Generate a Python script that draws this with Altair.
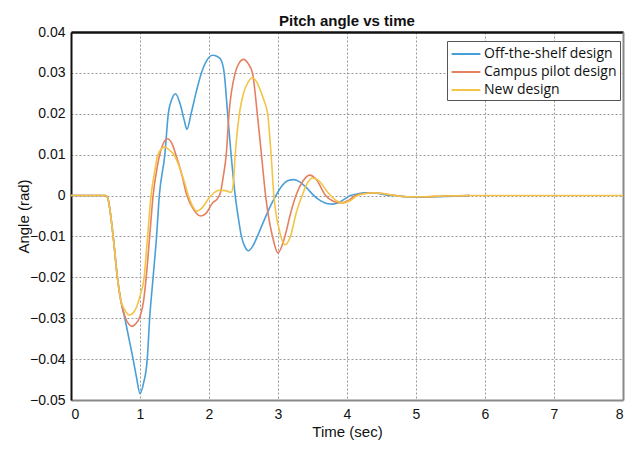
import altair as alt
import pandas as pd

series_names = ["Off-the-shelf design", "Campus pilot design", "New design"]
series_colors = ["#4a9fd8", "#e5805f", "#f3c446"]

t_off = [0, 0.5, 0.53, 0.61, 0.67, 0.72, 0.78, 0.84, 0.90, 0.95, 1.0, 1.05, 1.105, 1.14, 1.19, 1.24, 1.28,
         1.36, 1.41, 1.46, 1.515, 1.58, 1.64, 1.68, 1.74, 1.81, 1.89, 1.96, 2.05, 2.12, 2.17, 2.22, 2.27,
         2.32, 2.38, 2.43, 2.47, 2.52, 2.57, 2.63, 2.70, 2.80, 2.90, 2.97, 3.05, 3.14, 3.23, 3.32, 3.42,
         3.52, 3.62, 3.72, 3.79, 3.88, 3.97, 4.05, 4.15, 4.25, 4.34, 4.45, 4.58, 4.70, 4.85, 5.0, 5.2,
         5.4, 5.6, 5.78]
v_off = [0, 0, -0.0005, -0.0098, -0.0197, -0.0255, -0.030, -0.035, -0.040, -0.0445, -0.0484, -0.046,
         -0.040, -0.030, -0.020, -0.010, 0.0, 0.010, 0.020, 0.0235, 0.0249, 0.0225, 0.0185, 0.0162,
         0.020, 0.025, 0.030, 0.0328, 0.0343, 0.034, 0.0333, 0.030, 0.020, 0.010, 0.0, -0.006, -0.010,
         -0.0125, -0.0135, -0.0125, -0.010, -0.006, -0.0022, 0.0, 0.0022, 0.0036, 0.0039, 0.0033,
         0.0018, 0.0, -0.0013, -0.002, -0.0021, -0.0017, -0.0008, 0.0, 0.0004, 0.0007, 0.0007, 0.0005,
         0.0001, 0.0, -0.0003, -0.0004, -0.0004, -0.0002, -0.0001, 0.0]

t_campus = [0, 0.5, 0.53, 0.61, 0.67, 0.72, 0.78, 0.84, 0.885, 0.93, 1.0, 1.05, 1.09, 1.14, 1.19, 1.25,
            1.32, 1.40, 1.46, 1.52, 1.60, 1.68, 1.78, 1.88, 1.96, 2.05, 2.12, 2.17, 2.21, 2.25, 2.29,
            2.38, 2.44, 2.50, 2.57, 2.63, 2.70, 2.76, 2.82, 2.92, 3.0, 3.10, 3.18, 3.26, 3.36, 3.46,
            3.56, 3.69, 3.80, 3.91, 4.02, 4.12, 4.25, 4.39, 4.55, 4.70, 4.9, 5.1, 5.4, 5.78]
v_campus = [0, 0, -0.0005, -0.0098, -0.0197, -0.0255, -0.0295, -0.0315, -0.032, -0.0315, -0.0296,
            -0.026, -0.020, -0.010, 0.0, 0.007, 0.012, 0.0139, 0.0128, 0.010, 0.0055, 0.0, -0.0035,
            -0.005, -0.0043, -0.0018, -0.0008, 0.001, 0.005, 0.010, 0.020, 0.030, 0.0325, 0.0333,
            0.0322, 0.030, 0.020, 0.010, 0.0, -0.010, -0.014, -0.010, -0.0045, 0.0, 0.0035, 0.005,
            0.0038, 0.0, -0.0014, -0.0018, -0.0012, 0.0, 0.0005, 0.0007, 0.0004, 0.0, -0.0003,
            -0.0003, -0.0001, 0.0]

t_new = [0, 0.5, 0.53, 0.61, 0.67, 0.72, 0.78, 0.85, 0.92, 1.0, 1.06, 1.11, 1.16, 1.21, 1.26, 1.36,
         1.42, 1.49, 1.56, 1.64, 1.70, 1.76, 1.82, 1.90, 2.0, 2.08, 2.15, 2.24, 2.32, 2.35, 2.38, 2.44,
         2.50, 2.57, 2.63, 2.70, 2.76, 2.80, 2.85, 2.90, 2.94, 3.02, 3.10, 3.18, 3.26, 3.35, 3.43, 3.50,
         3.60, 3.72, 3.84, 3.95, 4.05, 4.15, 4.28, 4.40, 4.55, 4.70, 4.9, 5.1, 5.4, 5.8, 8.0]
v_new = [0, 0, -0.0005, -0.0098, -0.0197, -0.0255, -0.028, -0.0292, -0.0283, -0.0246, -0.020, -0.010,
         0.0, 0.0055, 0.010, 0.0119, 0.0112, 0.010, 0.0075, 0.0035, 0.0, -0.0025, -0.0038, -0.003,
         -0.0006, 0.0008, 0.0013, 0.0012, 0.0008, 0.0025, 0.010, 0.020, 0.025, 0.0278, 0.0288, 0.0275,
         0.025, 0.0231, 0.020, 0.010, 0.0, -0.0085, -0.012, -0.010, -0.0045, 0.0, 0.0032, 0.0043,
         0.0035, 0.0008, -0.0012, -0.0018, -0.0012, 0.0, 0.0005, 0.0007, 0.0004, 0.0, -0.0003,
         -0.0003, -0.0001, 0.0, 0.0]

x_ticks = [0, 1, 2, 3, 4, 5, 6, 7, 8]
y_ticks = [-0.05, -0.04, -0.03, -0.02, -0.01, 0.0, 0.01, 0.02, 0.03, 0.04]

rows = []
for name, ts, vs in zip(series_names, [t_off, t_campus, t_new], [v_off, v_campus, v_new]):
    for t, v in zip(ts, vs):
        rows.append({"series": name, "t": t, "v": v})
df = pd.DataFrame(rows)

xscale = alt.Scale(domain=[0, 8], nice=False, zero=False)
yscale = alt.Scale(domain=[-0.05, 0.04], nice=False, zero=False)

lab_font = "Liberation Sans"

lines = alt.Chart(df).mark_line(strokeWidth=1.6, interpolate="monotone").encode(
    x=alt.X("t:Q", scale=xscale, axis=alt.Axis(
        title="Time (sec)", values=x_ticks, format="d", ticks=False, labelPadding=7,
        labelFontSize=14, labelColor="#111", titleFontSize=15, titleFontWeight="normal",
        titleColor="#111", titlePadding=3, domainColor="#888", domainWidth=2,
        grid=True, gridColor="#999", gridDash=[2, 2], gridWidth=1,
        labelFont=lab_font, titleFont=lab_font)),
    y=alt.Y("v:Q", scale=yscale, axis=alt.Axis(
        title="Angle (rad)", values=y_ticks, ticks=False, labelPadding=6,
        labelExpr="datum.value == 0 ? '0' : format(datum.value, '.2f')",
        labelFontSize=14, labelColor="#111", titleFontSize=15, titleFontWeight="normal",
        titleColor="#111", titlePadding=-2, domainColor="#111", domainWidth=2,
        grid=True, gridColor="#999", gridDash=[2, 2], gridWidth=1,
        labelFont=lab_font, titleFont=lab_font)),
    color=alt.Color("series:N", sort=series_names,
                    scale=alt.Scale(domain=series_names, range=series_colors),
                    legend=alt.Legend(title=None, orient="none", legendX=376, legendY=9,
                                      symbolType="M-1.6,0H1.6", symbolSize=324, symbolStrokeWidth=2,
                                      symbolOffset=6,
                                      labelFont="Open Sans", labelFontSize=14, labelColor="#111",
                                      strokeColor="#555", fillColor="white", padding=3,
                                      rowPadding=1, labelOffset=8)),
)

frame = alt.Chart(df).mark_line(opacity=0).encode(
    x=alt.X("t:Q", scale=xscale, axis=alt.Axis(
        orient="top", title=None, labels=False, ticks=False, grid=False,
        domainColor="#111", domainWidth=2.5)),
    y=alt.Y("v:Q", scale=yscale, axis=alt.Axis(
        orient="right", title=None, labels=False, ticks=False, grid=False,
        domainColor="#888", domainWidth=2)),
)

chart = alt.layer(lines, frame).resolve_axis(x="independent", y="independent").properties(
    width=552, height=368,
    title=alt.TitleParams("Pitch angle vs time", fontSize=15, fontWeight="bold", font=lab_font,
                          anchor="middle", offset=-4, color="#111"),
    autosize=alt.AutoSizeParams(type="none"),
    padding={"left": 71, "top": 32, "right": 4, "bottom": 50},
).configure_view(stroke=None).configure(background="white")

chart.save("out.html", embed_options={"renderer": "svg", "actions": False})
